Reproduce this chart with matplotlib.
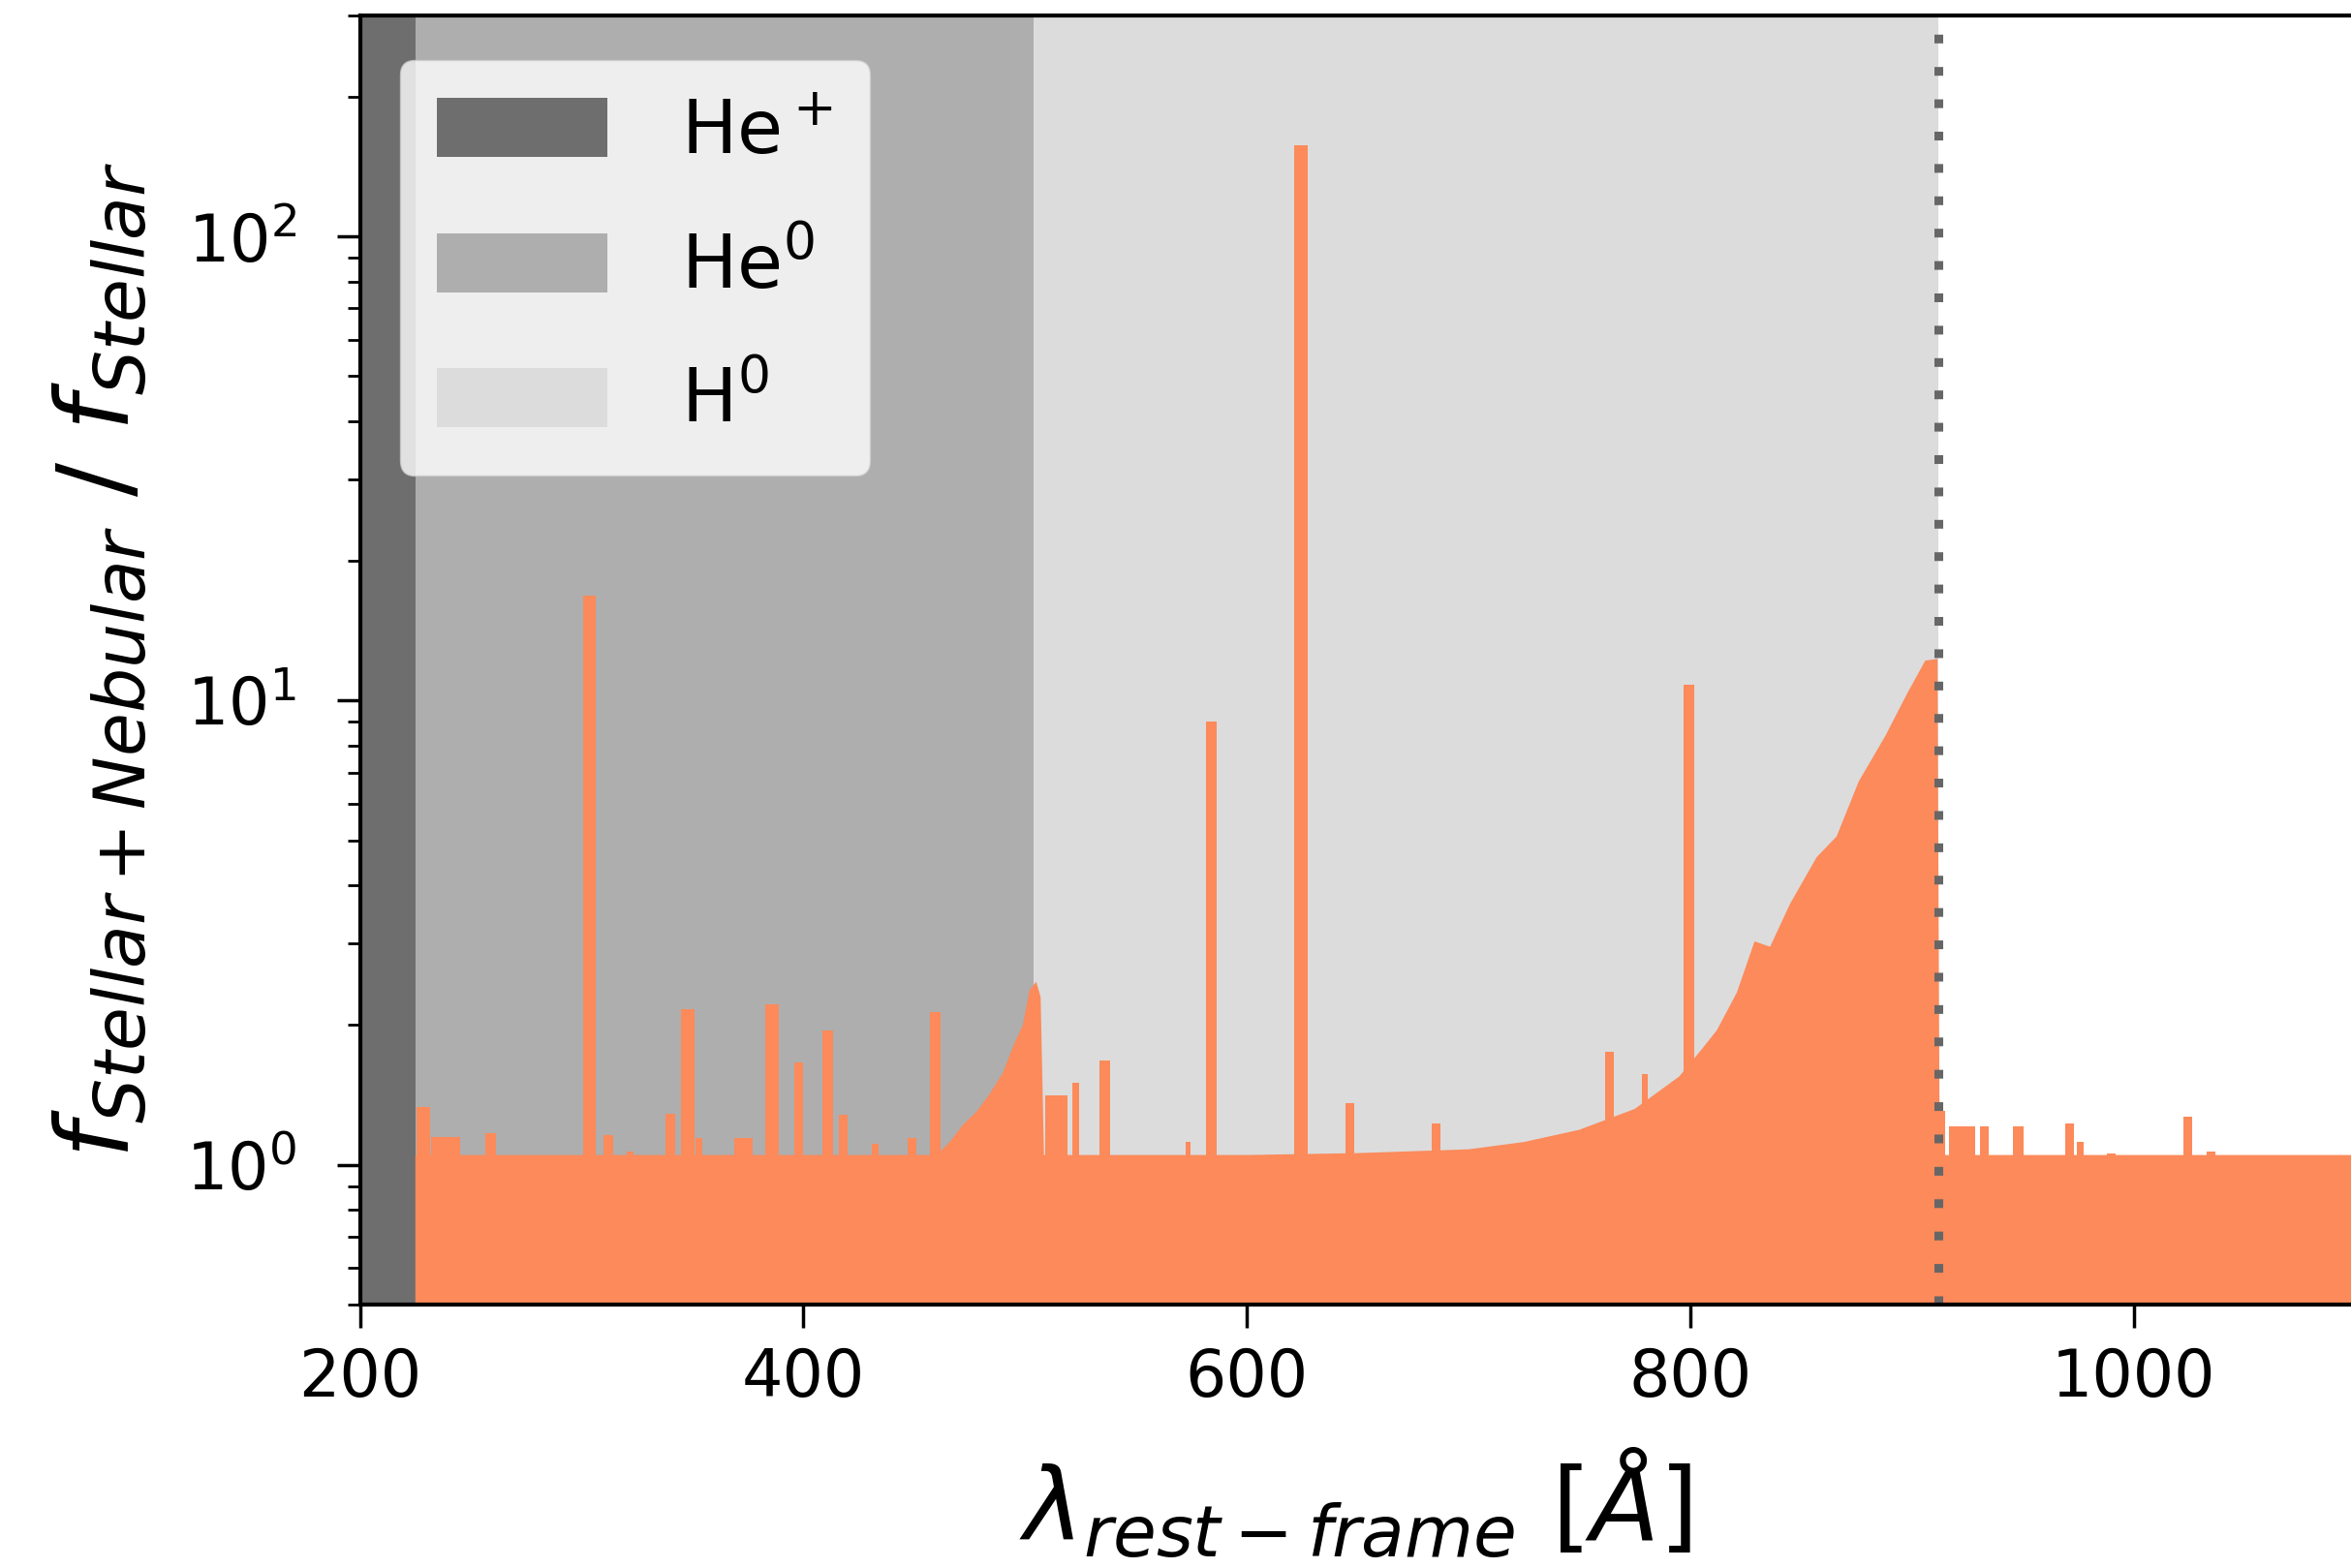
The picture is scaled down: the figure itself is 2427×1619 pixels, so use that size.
import matplotlib.pyplot as plt
import numpy as np

# continuum of the flux ratio (wavelength in Angstrom, ratio)
cont_wl = [225, 460, 466, 472, 478, 484, 490, 495, 499, 502, 505, 507, 508.5,
           600, 650, 700, 725, 750, 775, 795, 805, 812, 821, 829, 836, 845,
           857, 866, 876, 888, 898, 906, 911.5, 912.5, 1100]
cont_ratio = [1.05, 1.05, 1.12, 1.22, 1.3, 1.42, 1.58, 1.82, 2.0, 2.38, 2.48, 2.3, 1.05,
              1.05, 1.06, 1.08, 1.12, 1.19, 1.32, 1.55, 1.77, 1.95, 2.35, 3.03, 2.95, 3.65,
              4.6, 5.1, 6.7, 8.4, 10.4, 12.2, 12.3, 1.05, 1.05]

# nebular emission features: centre, peak ratio, width
line_wl = [228.5, 238.5, 259, 303.5, 312, 322, 340, 348, 353, 373, 386, 398, 411,
           418, 432.5, 449, 459.5, 514, 523, 536, 573.5, 584, 624.5, 646.5, 685.5,
           763.5, 779.5, 799.5, 913.5, 922.5, 932.5, 948, 971, 976, 990, 1024.5, 1035]
line_peak = [1.33, 1.15, 1.17, 16.8, 1.16, 1.07, 1.29, 2.16, 1.14, 1.14, 2.22, 1.66, 1.95,
             1.28, 1.11, 1.14, 2.13, 1.41, 1.5, 1.68, 1.12, 9.0, 157, 1.36, 1.23,
             1.75, 1.57, 10.8, 1.31, 1.21, 1.21, 1.21, 1.23, 1.12, 1.06, 1.27, 1.07]
line_width = [6, 13, 5, 6, 4, 3, 4, 6, 3, 8, 6, 4, 5,
              4, 3, 4, 5, 10, 3, 4.5, 2.5, 5, 6, 4, 4,
              4, 3, 5, 2.5, 12, 4, 5, 4, 3, 4, 4, 4]

# ionisation edges
edges = [200, 225, 504, 912]
edge_labels = ['He$^+$', 'He$^0$', 'H$^0$']
edge_colors = ['#6e6e6e', '#aeaeae', '#dcdcdc']

orange = '#fc8a5a'

fig = plt.figure(figsize=(24.27, 16.19), dpi=100)
ax = fig.add_axes([0.1531, 0.168, 0.8469, 0.8224])

for i in range(3):
    ax.axvspan(edges[i], edges[i + 1], color=edge_colors[i], lw=0, label=edge_labels[i])

ax.fill_between(cont_wl, cont_ratio, 0, color=orange, lw=0)
ax.bar(line_wl, line_peak, width=line_width, color=orange, lw=0)
ax.axvline(912, color='#666666', ls=(0, (1, 2.7)), lw=6.5)

ax.set_yscale('log')
ax.set_xlim(200, 1098)
ax.set_ylim(0.5, 300)
ax.set_xticks([200, 400, 600, 800, 1000])

for s in ['left', 'bottom', 'top']:
    ax.spines[s].set_linewidth(3)
ax.spines['right'].set_visible(False)
ax.tick_params(axis='both', which='major', labelsize=48, length=17, width=2.5)
ax.tick_params(axis='x', which='major', pad=14)
ax.tick_params(axis='y', which='major', pad=30)
ax.tick_params(axis='y', which='minor', length=9.5, width=2)

ax.set_xlabel(r'$\lambda_{rest-frame}$ [$\AA$]', fontsize=75, labelpad=28)
ax.set_ylabel(r'$f_{Stellar+Nebular}$ / $f_{Stellar}$', fontsize=75, labelpad=26)

ax.legend(loc='upper left', bbox_to_anchor=(0.0202, 0.965), borderaxespad=0,
          fontsize=55, handlelength=2.3, handleheight=0.85, labelspacing=0.85,
          handletextpad=1.0, borderpad=0.5)

fig.savefig('out.png', dpi=100)
